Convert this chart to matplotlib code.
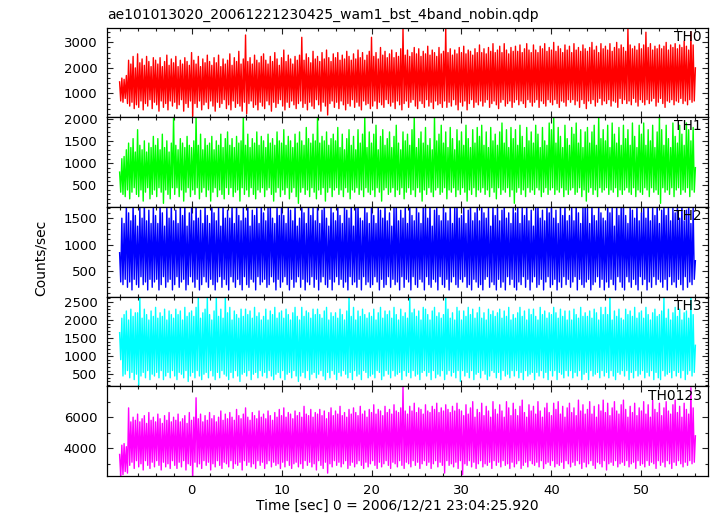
import numpy as np
import matplotlib
matplotlib.use('Agg')
import matplotlib.pyplot as plt
from matplotlib.ticker import MultipleLocator

title = "ae101013020_20061221230425_wam1_bst_4band_nobin.qdp"
xlabel = "Time [sec] 0 = 2006/12/21 23:04:25.920"
ylabel = "Counts/sec"

# light curve samples, one every 0.125 s starting at t = -8 s (one row = 2 s)
t_start = -8.0
dt = 0.125

th0 = [1450, 700, 1600, 650, 1550, 800, 1700, 600, 2300, 500, 2150, 650, 2450, 400, 2000, 550,
       2550, 450, 2200, 700, 2350, 350, 2100, 600, 2450, 500, 2250, 750, 2050, 400, 2400, 650,
       2300, 550, 2150, 300, 2400, 700, 2050, 450, 2250, 600, 2500, 350, 2100, 700, 2350, 500,
       2200, 650, 2450, 400, 2050, 550, 2300, 750, 2150, 300, 2400, 600, 2250, 450, 2100, 700,
       2600, 100, 2300, 600, 2150, 450, 2450, 700, 2050, 350, 2350, 550, 2200, 650, 2500, 400,
       2250, 700, 2100, 500, 2400, 300, 2200, 650, 2500, 450, 2050, 600, 2350, 750, 2150, 400,
       2300, 550, 2550, 350, 2100, 700, 2400, 450, 2250, 600, 2650, 500, 2150, 300, 2350, 650,
       3290, 200, 2250, 600, 2400, 700, 2150, 450, 2500, 550, 2300, 350, 2200, 650, 2450, 500,
       2550, 400, 2300, 700, 2150, 550, 2450, 300, 2250, 650, 2600, 450, 2350, 600, 2100, 750,
       2400, 500, 2700, 350, 2250, 650, 2500, 450, 2350, 700, 2150, 550, 2450, 400, 2300, 600,
       2500, 700, 3200, 450, 2300, 600, 2550, 350, 2400, 650, 2200, 500, 2650, 400, 2350, 750,
       2450, 550, 2250, 300, 2600, 650, 2350, 500, 2700, 150, 2400, 600, 2250, 700, 2550, 450,
       2400, 650, 2600, 400, 2300, 700, 2500, 550, 2350, 350, 2650, 600, 2450, 500, 2300, 750,
       2550, 450, 2350, 650, 2700, 500, 2400, 350, 2600, 700, 2300, 550, 2500, 600, 2650, 400,
       3200, 500, 2450, 700, 2600, 400, 2350, 650, 2800, 550, 2500, 450, 2650, 750, 2400, 600,
       2550, 500, 2700, 650, 2400, 400, 2600, 700, 2450, 550, 2750, 350, 3560, 600, 2500, 700,
       2700, 450, 2450, 650, 2600, 750, 2800, 500, 2550, 400, 2750, 700, 2450, 600, 2650, 450,
       2550, 750, 2850, 500, 2500, 650, 2700, 400, 2600, 700, 2450, 550, 2800, 600, 2550, 450,
       2650, 700, 3550, 450, 2600, 650, 2750, 500, 2500, 750, 2700, 550, 2550, 350, 2800, 650,
       2600, 500, 2850, 700, 2550, 350, 2700, 600, 2650, 750, 2500, 450, 2750, 650, 2600, 550,
       2900, 700, 2600, 500, 2750, 650, 2550, 750, 2800, 450, 2650, 600, 2950, 700, 2600, 550,
       2700, 400, 2850, 650, 2600, 750, 2950, 500, 2700, 600, 2550, 700, 2800, 450, 2650, 650,
       2850, 750, 2650, 550, 2900, 700, 2600, 600, 2750, 450, 2950, 750, 2700, 650, 2600, 500,
       2900, 650, 2700, 750, 2600, 450, 2850, 700, 2750, 600, 2950, 500, 2650, 750, 2800, 650,
       2700, 550, 3000, 750, 2650, 600, 2850, 450, 2750, 700, 2600, 650, 2900, 500, 2700, 750,
       2850, 650, 2600, 750, 2950, 550, 2700, 700, 2800, 450, 2650, 750, 2900, 600, 2750, 400,
       2650, 700, 2800, 600, 3000, 750, 2700, 500, 2850, 650, 2600, 800, 2950, 550, 2750, 700,
       2850, 600, 2700, 750, 2950, 500, 2650, 700, 2800, 650, 3000, 450, 2750, 800, 2900, 600,
       2800, 750, 2650, 600, 3550, 700, 2900, 550, 2750, 800, 2850, 650, 2700, 500, 2950, 750,
       2750, 650, 2900, 550, 3400, 750, 2800, 600, 2950, 700, 2700, 800, 2850, 500, 2750, 650,
       2900, 800, 2750, 600, 2850, 450, 3000, 700, 2700, 650, 2900, 750, 2800, 550, 2950, 700,
       2750, 650, 2900, 800, 2800, 600, 3050, 700, 2850, 550, 2700, 750, 3420, 650, 2900, 700,
       2000]

th1 = [800, 350, 1100, 300, 1150, 250, 1300, 400, 1450, 200, 1350, 350, 1550, 450, 1250, 300,
       1750, 250, 1400, 400, 1300, 150, 1500, 350, 1250, 450, 1450, 200, 1350, 300, 1600, 400,
       1400, 250, 1550, 450, 1300, 350, 1650, 100, 1350, 400, 1500, 300, 1250, 200, 1450, 450,
       2050, 300, 1400, 450, 1300, 250, 1550, 400, 1450, 150, 1350, 350, 1600, 450, 1400, 250,
       1350, 400, 1500, 300, 2050, 450, 1400, 200, 1650, 350, 1300, 450, 1550, 250, 1400, 400,
       1450, 150, 1600, 350, 1300, 450, 1500, 250, 1400, 400, 1650, 300, 1350, 200, 1550, 450,
       1700, 300, 1400, 450, 1550, 250, 1350, 350, 1600, 400, 1450, 150, 1500, 450, 2050, 300,
       1400, 400, 1650, 250, 1350, 450, 1550, 300, 1450, 200, 1700, 400, 1400, 350, 1600, 450,
       1500, 250, 1350, 400, 1650, 450, 1450, 300, 1550, 150, 1400, 350, 1700, 450, 1500, 250,
       1450, 400, 1750, 300, 1400, 450, 1600, 200, 1500, 350, 1350, 450, 1650, 250, 1450, 100,
       1700, 350, 1500, 450, 1400, 300, 1800, 400, 1550, 250, 1450, 450, 1650, 350, 1500, 200,
       2050, 400, 1450, 300, 1600, 450, 1500, 150, 1700, 350, 1400, 450, 1550, 250, 1650, 400,
       1500, 450, 1800, 300, 1350, 400, 1650, 250, 1300, 450, 1550, 350, 1750, 200, 1400, 400,
       1600, 350, 1300, 450, 1750, 300, 1450, 400, 1650, 250, 2050, 450, 1350, 350, 1700, 300,
       1450, 400, 1650, 250, 1850, 450, 1300, 350, 1600, 150, 1750, 400, 1400, 450, 1550, 300,
       1700, 350, 1350, 450, 1600, 250, 1850, 400, 1450, 300, 1300, 450, 1700, 200, 1500, 350,
       1650, 450, 1400, 300, 1750, 400, 2050, 250, 1350, 450, 1550, 350, 1700, 150, 1450, 400,
       1800, 300, 1400, 450, 1550, 350, 1300, 250, 2050, 400, 1500, 450, 1650, 300, 1850, 350,
       1450, 450, 1700, 200, 1350, 400, 1800, 350, 1550, 450, 1300, 250, 1750, 400, 1500, 300,
       1700, 450, 1400, 350, 1850, 150, 1550, 400, 1350, 300, 1750, 450, 1450, 250, 1800, 400,
       1600, 350, 1850, 450, 1400, 300, 1700, 400, 1350, 250, 1800, 450, 1500, 350, 1650, 200,
       1400, 450, 1700, 300, 1900, 400, 1450, 350, 1750, 450, 1350, 250, 1800, 400, 1550, 100,
       1750, 350, 1400, 450, 1850, 300, 1600, 400, 1350, 250, 1800, 450, 1500, 350, 1700, 400,
       1450, 300, 1850, 450, 1650, 400, 1350, 250, 1800, 350, 1500, 450, 1400, 300, 1900, 400,
       1750, 450, 2050, 300, 1450, 400, 1800, 350, 1600, 450, 1350, 250, 1850, 400, 1550, 300,
       1400, 400, 1800, 450, 1650, 300, 1900, 350, 1450, 450, 1750, 250, 1350, 400, 1700, 150,
       1800, 350, 1450, 450, 1700, 300, 1850, 400, 1400, 250, 2050, 450, 1550, 350, 1750, 400,
       1500, 450, 1850, 300, 1350, 400, 1900, 350, 1650, 450, 1450, 250, 1800, 400, 1400, 300,
       1850, 400, 1550, 450, 1750, 350, 1400, 300, 1900, 450, 1600, 250, 1350, 400, 1850, 350,
       1650, 300, 1900, 450, 1400, 400, 1750, 250, 1500, 450, 1850, 350, 1350, 400, 1700, 300,
       2050, 100, 1750, 450, 1400, 350, 1850, 400, 1550, 300, 1350, 450, 1900, 250, 1600, 400,
       1450, 450, 1850, 300, 1650, 400, 1400, 350, 1900, 450, 1750, 250, 1500, 400, 1800, 350,
       900]

th2 = [850, 300, 1500, 250, 1400, 350, 1750, 200, 1600, 300, 1450, 150, 1800, 350, 1550, 250,
       1350, 200, 1700, 400, 1500, 250, 1800, 300, 1450, 150, 1650, 350, 1400, 200, 1750, 300,
       1550, 350, 1400, 150, 1800, 250, 1600, 400, 1350, 200, 1700, 300, 1500, 350, 1800, 150,
       1450, 250, 1650, 400, 1400, 200, 1750, 300, 1550, 350, 1800, 150, 1350, 250, 1600, 400,
       1700, 300, 1450, 200, 1800, 350, 1500, 150, 1650, 250, 1400, 400, 1750, 300, 1550, 200,
       1400, 350, 1800, 250, 1600, 150, 1450, 300, 1700, 400, 1350, 200, 1800, 350, 1500, 250,
       1650, 150, 1500, 400, 1750, 300, 1400, 200, 1800, 350, 1550, 250, 1450, 150, 1700, 400,
       1500, 250, 1800, 200, 1350, 350, 1650, 300, 1550, 150, 1750, 400, 1400, 250, 1800, 300,
       1600, 350, 1450, 200, 1700, 250, 1800, 400, 1500, 300, 1400, 150, 1750, 350, 1550, 200,
       1800, 300, 1550, 400, 1400, 250, 1700, 150, 1650, 350, 1450, 200, 1800, 300, 1350, 400,
       1500, 200, 1750, 350, 1600, 150, 1400, 300, 1800, 250, 1550, 400, 1700, 200, 1450, 350,
       1750, 150, 1400, 300, 1650, 400, 1800, 250, 1500, 200, 1350, 350, 1700, 150, 1600, 300,
       1450, 400, 1800, 250, 1550, 350, 1400, 200, 1750, 300, 1650, 150, 1500, 400, 1800, 250,
       1350, 300, 1700, 200, 1800, 350, 1500, 150, 1450, 400, 1750, 250, 1600, 300, 1400, 200,
       1800, 250, 1550, 400, 1400, 300, 1750, 150, 1650, 350, 1500, 200, 1800, 250, 1450, 400,
       1600, 200, 1350, 350, 1700, 250, 1800, 300, 1450, 150, 1650, 400, 1500, 200, 1750, 350,
       1400, 300, 1800, 150, 1550, 400, 1450, 250, 1750, 200, 1600, 350, 1400, 300, 1800, 150,
       1700, 400, 1500, 250, 1800, 200, 1350, 350, 1650, 300, 1750, 150, 1550, 400, 1450, 250,
       1800, 200, 1600, 350, 1450, 150, 1750, 300, 1400, 400, 1700, 250, 1800, 200, 1500, 350,
       1550, 300, 1750, 400, 1400, 200, 1650, 250, 1800, 150, 1450, 350, 1600, 300, 1750, 200,
       1450, 250, 1800, 150, 1600, 350, 1500, 400, 1700, 200, 1350, 300, 1800, 250, 1550, 150,
       1750, 350, 1450, 200, 1650, 300, 1800, 150, 1500, 400, 1600, 250, 1400, 350, 1750, 200,
       1600, 150, 1800, 300, 1400, 250, 1700, 400, 1550, 200, 1800, 350, 1450, 150, 1650, 300,
       1350, 400, 1700, 200, 1800, 250, 1500, 350, 1650, 150, 1450, 300, 1750, 400, 1600, 200,
       1800, 250, 1500, 350, 1650, 150, 1400, 300, 1750, 200, 1550, 400, 1800, 250, 1450, 350,
       1550, 200, 1750, 300, 1450, 400, 1800, 150, 1600, 350, 1400, 250, 1700, 200, 1800, 300,
       1700, 350, 1400, 150, 1800, 250, 1550, 300, 1450, 400, 1750, 200, 1600, 350, 1500, 150,
       1450, 300, 1800, 200, 1600, 350, 1700, 250, 1350, 150, 1800, 400, 1550, 300, 1750, 200,
       1800, 150, 1550, 400, 1400, 300, 1750, 200, 1650, 350, 1500, 250, 1800, 150, 1450, 400,
       1600, 250, 1750, 350, 1500, 150, 1800, 300, 1450, 200, 1700, 400, 1550, 250, 1800, 350,
       1400, 300, 1650, 200, 1800, 350, 1550, 150, 1750, 400, 1450, 250, 1700, 300, 1600, 200,
       1750, 350, 1500, 250, 1800, 150, 1450, 400, 1650, 200, 1800, 300, 1400, 250, 1700, 350,
       700]

th3 = [1650, 900, 2050, 450, 2150, 500, 2250, 600, 2000, 400, 2300, 550, 2100, 350, 2200, 500,
       2200, 200, 2650, 450, 2050, 550, 2300, 400, 2150, 600, 2000, 350, 2250, 500, 2100, 450,
       2350, 550, 2050, 400, 2200, 600, 2100, 350, 2300, 450, 2000, 550, 2250, 400, 2150, 600,
       2050, 450, 2300, 350, 2150, 550, 2250, 500, 2000, 400, 2350, 600, 2100, 300, 2200, 450,
       2250, 550, 2100, 400, 2350, 600, 2650, 450, 2050, 350, 2200, 500, 2300, 550, 2650, 400,
       2150, 600, 2000, 450, 2250, 350, 2650, 550, 2100, 400, 2300, 600, 2050, 500, 2650, 450,
       2200, 350, 2350, 550, 2000, 400, 2250, 600, 2150, 450, 2050, 300, 2300, 500, 2100, 550,
       2300, 450, 2150, 600, 2250, 350, 2050, 500, 2350, 550, 2100, 400, 2200, 600, 2000, 450,
       2100, 550, 2300, 400, 2000, 600, 2250, 450, 2150, 350, 2350, 500, 2050, 550, 2200, 400,
       2250, 600, 2050, 350, 2300, 500, 2150, 550, 2000, 400, 2200, 600, 2350, 450, 2100, 300,
       2000, 450, 2350, 550, 2100, 400, 2250, 600, 2200, 350, 2050, 500, 2300, 550, 2150, 400,
       2300, 500, 2150, 600, 2050, 450, 2250, 350, 2350, 550, 2000, 400, 2200, 600, 2100, 500,
       2200, 350, 2050, 550, 2300, 450, 2150, 600, 2000, 500, 2250, 400, 2650, 550, 2100, 350,
       2350, 600, 2000, 450, 2250, 500, 2100, 350, 2300, 600, 2150, 550, 2050, 400, 2200, 450,
       2100, 500, 2300, 400, 2000, 600, 2200, 550, 2350, 350, 2050, 450, 2250, 600, 2150, 500,
       2250, 400, 2050, 600, 2350, 450, 2150, 500, 2000, 550, 2300, 350, 2100, 600, 2200, 450,
       2050, 550, 2650, 400, 2200, 600, 2300, 450, 2100, 500, 2250, 350, 2000, 550, 2350, 600,
       2300, 450, 2150, 550, 2000, 350, 2250, 600, 2350, 400, 2100, 500, 2200, 450, 2050, 600,
       2150, 350, 2650, 500, 2300, 600, 2050, 450, 2200, 550, 2000, 400, 2350, 600, 2250, 300,
       2000, 600, 2250, 450, 2100, 550, 2350, 400, 2150, 600, 2300, 350, 2050, 500, 2200, 550,
       2350, 400, 2050, 600, 2200, 500, 2000, 350, 2300, 450, 2150, 600, 2250, 550, 2100, 400,
       2200, 550, 2300, 350, 2050, 600, 2250, 450, 2100, 500, 2350, 400, 2000, 600, 2150, 450,
       2050, 600, 2200, 400, 2350, 550, 2100, 350, 2250, 600, 2000, 450, 2300, 500, 2150, 550,
       2300, 350, 2100, 550, 2000, 450, 2350, 600, 2150, 400, 2250, 550, 2050, 350, 2200, 600,
       2150, 450, 2350, 600, 2200, 350, 2050, 550, 2300, 500, 2100, 400, 2250, 600, 2000, 450,
       2250, 600, 2000, 400, 2300, 550, 2150, 450, 2050, 600, 2350, 350, 2100, 500, 2200, 550,
       2100, 350, 2250, 600, 2050, 450, 2300, 500, 2200, 550, 2000, 400, 2350, 600, 2150, 450,
       2350, 550, 2150, 400, 2650, 600, 2000, 450, 2250, 350, 2100, 550, 2300, 500, 2050, 600,
       2000, 450, 2300, 600, 2150, 350, 2250, 550, 2100, 400, 2350, 600, 2050, 450, 2200, 500,
       2250, 600, 2050, 400, 2350, 550, 2150, 450, 2000, 600, 2200, 350, 2300, 550, 2100, 400,
       2150, 350, 2250, 600, 2650, 450, 2050, 500, 2300, 550, 2000, 400, 2200, 600, 2350, 450,
       2100, 550, 2300, 400, 2000, 600, 2200, 350, 2250, 500, 2050, 600, 2650, 450, 2150, 550,
       1300]

th0123 = [3600, 2200, 4200, 2300, 4300, 2500, 4100, 2400, 6600, 2900, 5700, 3100, 6000, 2700, 5800, 3200,
          6200, 2800, 5700, 3000, 5900, 2600, 6100, 3200, 5600, 2900, 6300, 2700, 5800, 3100, 6000, 2800,
          5700, 3200, 6200, 2900, 5900, 2600, 5600, 3100, 6100, 2800, 5800, 3000, 6300, 2700, 5700, 3200,
          6000, 2900, 5800, 2700, 6200, 3100, 5700, 2800, 5900, 3200, 6100, 2600, 5600, 3000, 6300, 2900,
          5800, 2200, 6000, 3100, 7250, 2800, 5900, 3000, 6200, 2700, 5700, 3200, 6100, 2900, 5800, 3100,
          6300, 2600, 5900, 3000, 6100, 2800, 5700, 3200, 6000, 2900, 6400, 2700, 5800, 3100, 6200, 3000,
          5900, 2800, 6300, 3200, 6000, 2700, 5800, 3000, 6500, 2900, 6100, 3100, 5900, 2600, 6200, 3200,
          6600, 2900, 6000, 3100, 5800, 2800, 6300, 3000, 6100, 2700, 5900, 3200, 6400, 2900, 6000, 3100,
          6200, 2700, 5900, 3000, 6400, 3200, 6100, 2800, 5800, 3100, 6300, 2900, 6000, 3000, 6500, 2700,
          6100, 3100, 6600, 2800, 6000, 3200, 6300, 2900, 6200, 2700, 5900, 3000, 6400, 3100, 6100, 2800,
          6300, 3000, 6000, 2700, 6700, 3200, 6200, 2900, 6100, 3100, 6500, 2800, 6000, 3000, 6300, 2600,
          6200, 3200, 6500, 2900, 6100, 2700, 6400, 3100, 5900, 2400, 6300, 3000, 6600, 2800, 6100, 3200,
          6400, 2900, 6200, 3100, 6700, 2800, 6100, 3000, 6300, 3200, 6000, 2700, 6500, 2900, 6200, 3100,
          6600, 2800, 6300, 3000, 6100, 3200, 6700, 2900, 6200, 2700, 6400, 3100, 6000, 2800, 6500, 3000,
          6300, 3200, 6800, 2900, 6200, 2700, 6500, 3100, 6400, 2800, 6100, 3000, 6700, 3200, 6300, 2900,
          6500, 2700, 6200, 3100, 6800, 3000, 6400, 2800, 6300, 3200, 6600, 2900, 8000, 2700, 6400, 3100,
          6200, 3000, 6700, 2800, 6400, 3200, 6900, 2900, 6300, 3100, 6600, 2700, 6500, 3000, 6200, 3200,
          6800, 2900, 6400, 3100, 6300, 2700, 6700, 3000, 6500, 3200, 6900, 2800, 6300, 3100, 6600, 2900,
          6400, 2400, 6800, 3200, 6500, 2900, 6300, 3000, 6700, 2800, 6400, 3100, 6900, 2700, 6500, 3200,
          6400, 2300, 6100, 3000, 6800, 2900, 6200, 3200, 6600, 2800, 7000, 3100, 6000, 2700, 6500, 3000,
          6300, 3200, 6900, 2800, 6100, 3000, 6700, 2900, 6400, 3100, 6000, 2700, 7000, 3200, 6500, 2900,
          6200, 3100, 6800, 2800, 6400, 3200, 6000, 2900, 7000, 3000, 6600, 2700, 6100, 3100, 6900, 2800,
          6500, 3000, 6100, 3200, 6700, 2700, 7100, 2900, 6300, 3100, 6000, 2800, 6800, 3200, 6400, 3000,
          6700, 2900, 6200, 3100, 7000, 2800, 6400, 3200, 6000, 2700, 6600, 3000, 6900, 3100, 6300, 2900,
          6100, 3200, 6900, 2800, 6500, 3000, 7000, 2900, 6200, 3100, 6700, 2700, 6000, 3200, 6600, 3000,
          6900, 2800, 6300, 3100, 6600, 2900, 6100, 3200, 7100, 3000, 6400, 2700, 6800, 3100, 6200, 2800,
          6500, 3000, 7000, 3200, 6200, 2900, 6700, 2700, 6000, 3100, 6800, 3000, 6400, 2800, 7100, 3200,
          6300, 2600, 6900, 3000, 6100, 3100, 6600, 2900, 7000, 3200, 6400, 2800, 6200, 3000, 6800, 3100,
          7100, 2900, 6500, 3200, 6000, 2800, 6700, 3000, 6300, 3100, 6900, 2700, 6100, 3200, 6600, 2900,
          6400, 3000, 7000, 2800, 6200, 3200, 6800, 2900, 6000, 3100, 7100, 3000, 6500, 2700, 6300, 3200,
          6900, 2900, 6100, 3100, 6600, 2800, 7000, 3200, 6400, 3000, 6200, 2700, 6800, 3100, 7100, 2900,
          6300, 3200, 6700, 3000, 6000, 2800, 6900, 3100, 6500, 2900, 6200, 3200, 7900, 3000, 6600, 3100,
          4800]

bands = ['TH0', 'TH1', 'TH2', 'TH3', 'TH0123']
series = [th0, th1, th2, th3, th0123]
colors = ['#ff0000', '#00ff00', '#0000ff', '#00ffff', '#ff00ff']
ylims = [(63, 3585), (20, 2030), (25, 1712), (165, 2648), (2213, 7990)]
ymajor = [1000, 500, 500, 500, 2000]
yminor = [200, 100, 100, 100, 1000]

fig = plt.figure(figsize=(7.17, 5.16), dpi=100)
W, H = 717.0, 516.0
ax_left, ax_w = 107 / W, 601 / W
ax_top, ax_h = 27.5 / H, 89.7 / H

for i in range(len(bands)):
    ax = fig.add_axes([ax_left, 1 - ax_top - (i + 1) * ax_h, ax_w, ax_h])
    y = np.array(series[i])
    t = t_start + dt * np.arange(len(y))
    ax.plot(t, y, color=colors[i], lw=1.0)
    ax.set_xlim(-9.4, 57.4)
    ax.set_ylim(*ylims[i])
    ax.xaxis.set_major_locator(MultipleLocator(10))
    ax.xaxis.set_minor_locator(MultipleLocator(2))
    ax.yaxis.set_major_locator(MultipleLocator(ymajor[i]))
    ax.yaxis.set_minor_locator(MultipleLocator(yminor[i]))
    ax.tick_params(which='both', direction='in', top=True, right=True,
                   labelsize=9.5, width=0.8, color='#222222')
    ax.tick_params(which='major', length=4)
    ax.tick_params(which='minor', length=2.2)
    ax.tick_params(axis='y', pad=7)
    ax.tick_params(axis='x', pad=6)
    if i < len(bands) - 1:
        ax.tick_params(labelbottom=False)
    for s in ax.spines.values():
        s.set_linewidth(0.9)
    ax.text(0.99, 0.975, bands[i], transform=ax.transAxes, ha='right', va='top',
            fontsize=10)

fig.text(107 / W, 1 - 19.3 / H, title, ha='left', va='baseline', fontsize=10)
fig.text(41 / W, 1 - 258 / H, ylabel, rotation=90, ha='center', va='center', fontsize=10)
fig.text(397.5 / W, 1 - 506 / H, xlabel, ha='center', va='center', fontsize=10)

fig.savefig('out.png', dpi=100)
